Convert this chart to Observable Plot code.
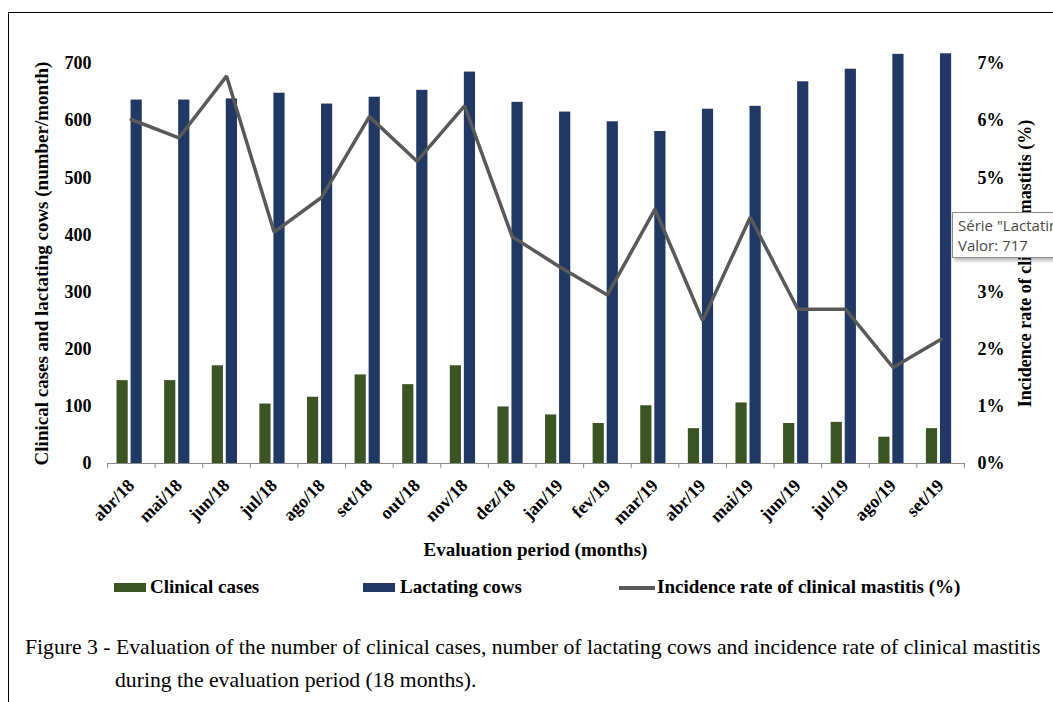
<!DOCTYPE html>
<html>
<head>
<meta charset="utf-8">
<script src="https://cdn.jsdelivr.net/npm/d3@7"></script>
<script src="https://cdn.jsdelivr.net/npm/@observablehq/plot@0.6"></script>
<style>
  html, body { margin: 0; padding: 0; background: #fff; width: 1053px; height: 702px; overflow: hidden; }
  #page { position: relative; width: 1053px; height: 702px; overflow: hidden; font-family: "Liberation Serif", "Times New Roman", serif; color: #000; }
  #frame { position: absolute; left: 8px; top: 12px; width: 1100px; height: 720px; border-top: 1.5px solid #000; border-left: 1.5px solid #000; }
  #chart { position: absolute; left: 0; top: 0; }
  .abs { position: absolute; white-space: nowrap; }
  .bold { font-weight: bold; }
  .sw { position: absolute; }
  #tip { position: absolute; left: 952px; top: 212px; width: 140px; height: 46px; background: #fff; border: 1px solid #8c8c8c; box-shadow: 2px 3px 3px rgba(0,0,0,0.25); font-family: "Open Sans", "Noto Sans", sans-serif; font-size: 15px; color: #4a4a4a; line-height: 20px; padding: 2px 0 0 5px; box-sizing: border-box; white-space: nowrap; overflow: hidden; }
</style>
</head>
<body>
<div id="page">
  <div id="frame"></div>
  <div id="chart"></div>
  <div class="abs bold" id="xtitle" style="left:0;width:1071px;text-align:center;top:538px;font-size:19px;line-height:24px;">Evaluation period (months)</div>
  <div id="legend"></div>
  <div class="abs" style="left:25px;top:634px;font-size:21.7px;line-height:26px;">Figure 3 - Evaluation of the number of clinical cases, number of lactating cows and incidence rate of clinical mastitis</div>
  <div class="abs" style="left:115px;top:667px;font-size:21.7px;line-height:26px;">during the evaluation period (18 months).</div>
  <div id="tip">Série "Lactating cows"<br>Valor: 717</div>
</div>
<script>
// ---- Data ----
const months = ["abr/18","mai/18","jun/18","jul/18","ago/18","set/18","out/18","nov/18","dez/18",
                "jan/19","fev/19","mar/19","abr/19","mai/19","jun/19","jul/19","ago/19","set/19"];
const clinicalCases = [145,145,171,104,116,155,138,171,99,85,70,101,61,106,70,72,46,61];
const lactatingCows = [636,636,638,648,629,641,653,685,632,615,598,581,620,625,668,690,716,717];
const incidenceRate = [6.02,5.70,6.78,4.05,4.66,6.07,5.29,6.26,3.97,3.44,2.95,4.45,2.50,4.31,2.70,2.70,1.68,2.17]; // %
const leftTicks = [0,100,200,300,400,500,600,700];
const rightTicks = [0,1,2,3,4,5,6,7]; // %
const seriesNames = ["Clinical cases","Lactating cows","Incidence rate of clinical mastitis (%)"];
const colors = {green: "#3a5424", blue: "#203864", gray: "#595959"};

const data = months.map((m, i) => ({month: m, cases: clinicalCases[i], cows: lactatingCows[i], rate: incidenceRate[i]}));

const W = 1053, H = 540;
const mL = 107, mR = 89, mT = 63, mB = 77;
const bw = (W - mL - mR) / months.length;

const font = {fontFamily: "Liberation Serif, Times New Roman, serif", fontWeight: "bold"};

const chart = Plot.plot({
  width: W, height: H,
  marginLeft: mL, marginRight: mR, marginTop: mT, marginBottom: mB,
  style: {fontFamily: "Liberation Serif, Times New Roman, serif", fontSize: "18px", color: "#000", background: "transparent", overflow: "visible"},
  x: {type: "band", domain: months, padding: 0, round: false},
  y: {domain: [0, 700], clamp: false},
  marks: [
    Plot.barY(data, {x: "month", y: "cases", fill: colors.green, insetLeft: bw * 0.2, insetRight: bw * 0.565}),
    Plot.barY(data, {x: "month", y: "cows", fill: colors.blue, insetLeft: bw * 0.495, insetRight: bw * 0.27}),
    Plot.ruleY([0], {stroke: "#8a8a8a", strokeWidth: 1}),
    Plot.ruleX(months, {x: d => d, y1: 0, y2: -9, dx: -bw / 2, stroke: "#8a8a8a"}),
    Plot.ruleX([months[months.length - 1]], {x: d => d, y1: 0, y2: -9, dx: bw / 2, stroke: "#8a8a8a"}),
    Plot.lineY(data, {x: "month", y: d => d.rate * 100, stroke: colors.gray, strokeWidth: 3.5, strokeLinejoin: "miter"}),
    Plot.axisY(leftTicks, {anchor: "left", tickSize: 0, tickPadding: 16, label: null, ...font, fontSize: 18}),
    Plot.axisY(rightTicks.map(p => p * 100), {anchor: "right", tickSize: 0, tickPadding: 13, label: null, tickFormat: d => (d / 100) + "%", ...font, fontSize: 18}),
    Plot.axisX({tickSize: 0, tickRotate: -45, tickPadding: 19, label: null, ...font, fontSize: 18}),
    Plot.text(["Clinical cases and lactating cows (number/month)"], {frameAnchor: "left", textAnchor: "middle", rotate: -90, dx: -66, ...font, fontSize: 19}),
    Plot.text(["Incidence rate of clinical mastitis (%)"], {frameAnchor: "right", textAnchor: "middle", rotate: -90, dx: 61, ...font, fontSize: 18})
  ]
});
document.getElementById("chart").appendChild(chart);

// ---- Legend (HTML) ----
const legend = document.getElementById("legend");
const items = [
  {name: seriesNames[0], kind: "box", color: colors.green, sx: 114, tx: 150},
  {name: seriesNames[1], kind: "box", color: colors.blue, sx: 363, tx: 400},
  {name: seriesNames[2], kind: "line", color: colors.gray, sx: 619, tx: 657}
];
items.forEach(it => {
  const s = document.createElement("div");
  s.className = "sw";
  if (it.kind === "box") {
    Object.assign(s.style, {left: it.sx + "px", top: "583px", width: "32px", height: "9px", background: it.color});
  } else {
    Object.assign(s.style, {left: it.sx + "px", top: "586px", width: "36px", height: "3.5px", background: it.color});
  }
  legend.appendChild(s);
  const t = document.createElement("div");
  t.className = "abs bold";
  Object.assign(t.style, {left: it.tx + "px", top: "575px", fontSize: "19px", lineHeight: "24px"});
  t.textContent = it.name;
  legend.appendChild(t);
});
</script>
</body>
</html>
